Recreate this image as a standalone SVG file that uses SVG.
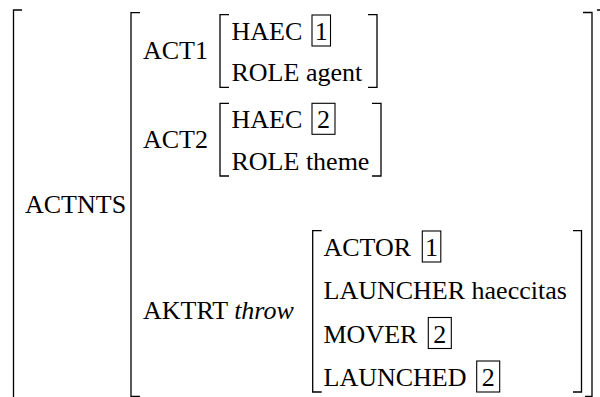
<svg xmlns="http://www.w3.org/2000/svg" width="600" height="397" viewBox="0 0 600 397" font-family="'Liberation Serif', 'DejaVu Serif', serif">
  <style>
    .br { fill: none; stroke: #000; stroke-width: 1.3; }
    .tag { fill: none; stroke: #000; stroke-width: 1.1; }
    .t { font-family: 'Liberation Serif', 'DejaVu Serif', serif; font-size: 26px; fill: #000; }
    .d { text-anchor: middle; }
    .it { font-style: italic; }
  </style>
  <rect x="0" y="0" width="600" height="397" fill="#fff"/>

  <g id="avm-outer">
    <path class="br" d="M22,10 H13.5 V402"/>
    <path class="br" d="M597,10 H606 V402"/>
    <text class="t" x="25" y="212.5">ACTNTS</text>
  </g>

  <g id="avm-actnts">
    <path class="br" d="M140,12.7 H131 V396.5 H140"/>
    <path class="br" d="M583,12.5 H592 V396.5 H585"/>
    <text class="t" x="143" y="59">ACT1</text>
    <text class="t" x="143" y="147.5">ACT2</text>
    <text class="t" x="143" y="319">AKTRT <tspan class="it">throw</tspan></text>
  </g>

  <g id="avm-act1">
    <path class="br" d="M229,14.7 H220 V87.3 H229"/>
    <path class="br" d="M368,14.7 H377 V87.3 H368"/>
    <text class="t" x="231.5" y="40">HAEC</text>
    <rect class="tag" x="312" y="15" width="18.5" height="31"/>
    <text class="t d" x="321.2" y="40">1</text>
    <text class="t" x="231.5" y="81.3">ROLE agent</text>
  </g>

  <g id="avm-act2">
    <path class="br" d="M229,103.3 H220 V176 H229"/>
    <path class="br" d="M372,103.3 H381 V176 H372"/>
    <text class="t" x="231.5" y="128.3">HAEC</text>
    <rect class="tag" x="312" y="103.3" width="23" height="31"/>
    <text class="t d" x="323.5" y="128.3">2</text>
    <text class="t" x="231.5" y="170">ROLE theme</text>
  </g>

  <g id="avm-aktrt">
    <path class="br" d="M321.7,230.7 H312.7 V392 H321.7"/>
    <path class="br" d="M573,230.7 H581.5 V392 H573"/>
    <text class="t" x="323.5" y="256">ACTOR</text>
    <rect class="tag" x="422.3" y="231" width="18.5" height="31"/>
    <text class="t d" x="431.5" y="256">1</text>
    <text class="t" x="323.5" y="299">LAUNCHER haeccitas</text>
    <text class="t" x="323.5" y="342.5">MOVER</text>
    <rect class="tag" x="428.3" y="317.5" width="23" height="31"/>
    <text class="t d" x="439.8" y="342.5">2</text>
    <text class="t" x="323.5" y="386">LAUNCHED</text>
    <rect class="tag" x="476.7" y="361" width="23" height="31"/>
    <text class="t d" x="488.2" y="386">2</text>
  </g>
</svg>
